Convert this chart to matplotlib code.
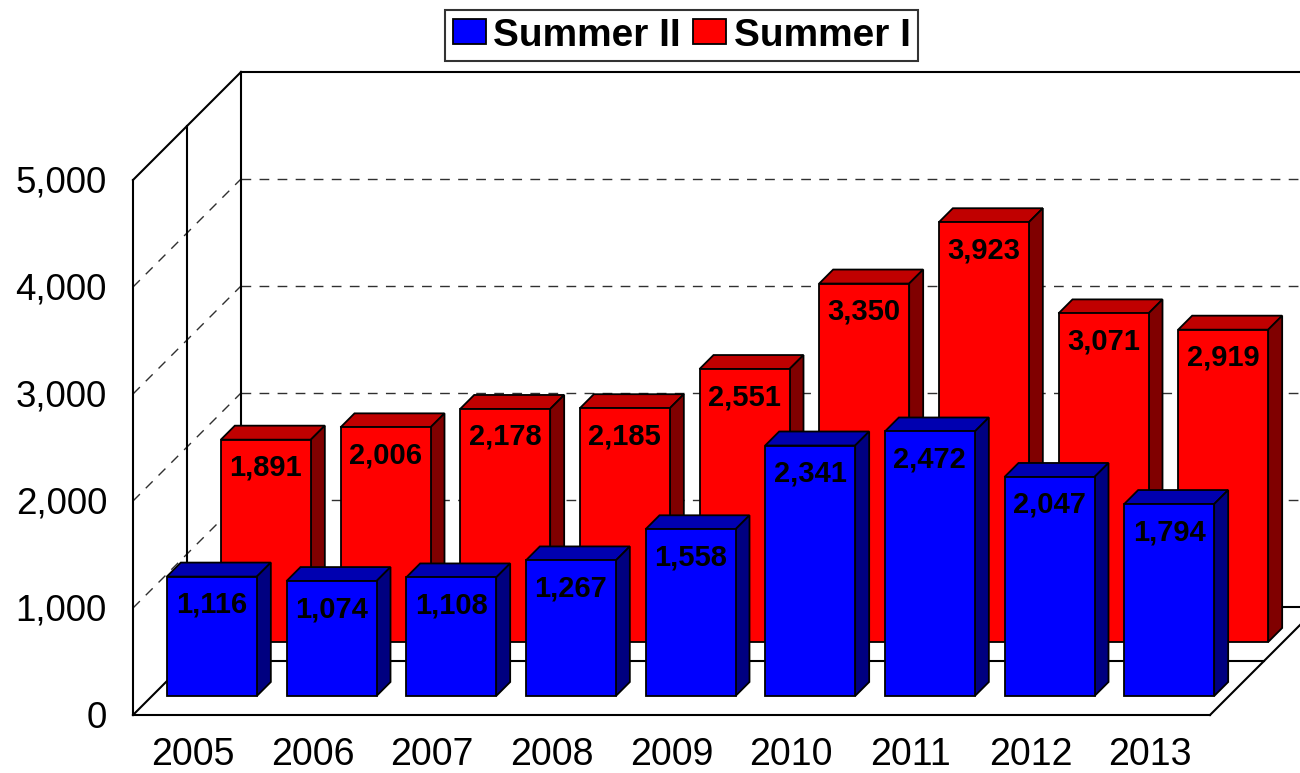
import matplotlib
matplotlib.use("Agg")
import matplotlib.pyplot as plt
from matplotlib.patches import Polygon

plt.rcParams['font.family'] = ['Liberation Sans', 'DejaVu Sans']

# данные
years = ['2005', '2006', '2007', '2008', '2009', '2010', '2011', '2012', '2013']
summer_ii = [1116, 1074, 1108, 1267, 1558, 2341, 2472, 2047, 1794]
summer_i = [1891, 2006, 2178, 2185, 2551, 3350, 3923, 3071, 2919]
y_ticks = [0, 1000, 2000, 3000, 4000, 5000]
y_tick_labels = ['0', '1,000', '2,000', '3,000', '4,000', '5,000']

# геометрия псевдо-3D (пиксели -> единицы данных)
W, H = 1300, 773
PX_X = (1210 - 133) / 9        # пикселей на одну категорию
PX_Y = 535 / 5000              # пикселей на единицу значения
DEPTH_X = 108 / PX_X           # полная глубина по x
DEPTH_Y = 108 / PX_Y           # полная глубина по y
BAR_W = 90 / PX_X
N = len(years)
LEFT, RIGHT = -0.5, N - 0.5
TOP = 5000


def proj(x, v, d):
    return x + d * DEPTH_X, v + d * DEPTH_Y


def draw_row(ax, values, d0, d1, front, top, side, label, z):
    xs = [i + d0 * DEPTH_X for i in range(N)]
    bars = ax.bar(xs, values, width=BAR_W, bottom=d0 * DEPTH_Y, color=front,
                  edgecolor='black', linewidth=1.3, zorder=z + 1, label=label)
    for i, v in enumerate(values):
        l, r = i - BAR_W / 2, i + BAR_W / 2
        top_face = [proj(l, v, d0), proj(r, v, d0), proj(r, v, d1), proj(l, v, d1)]
        side_face = [proj(r, 0, d0), proj(r, v, d0), proj(r, v, d1), proj(r, 0, d1)]
        ax.add_patch(Polygon(top_face, closed=True, facecolor=top, edgecolor='black',
                             linewidth=1.3, zorder=z))
        ax.add_patch(Polygon(side_face, closed=True, facecolor=side, edgecolor='black',
                             linewidth=1.3, zorder=z))
        tx, ty = proj(i, v - 28 / PX_Y, d0)
        ax.text(tx, ty, f'{v:,}', ha='center', va='center', fontsize=21,
                fontweight='bold', color='black', zorder=z + 2)
    return bars


def main():
    fig = plt.figure(figsize=(W / 100, H / 100), dpi=100)
    ax = fig.add_axes([0, 0, 1, 1])
    ax.set_xlim(LEFT - 133 / PX_X, LEFT + (W - 133) / PX_X)
    ax.set_ylim((715 - H) / PX_Y, 715 / PX_Y)
    ax.axis('off')

    lw = 1.5
    k = dict(color='black', linewidth=lw, zorder=2, solid_capstyle='projecting')

    # сетка: задняя стена и левая стена
    for v in y_ticks[1:-1]:
        x0, y0 = proj(LEFT, v, 1)
        x1, y1 = proj(RIGHT, v, 1)
        ax.plot([x0, x1], [y0, y1], color='#303030', linewidth=1, dashes=(7, 6), zorder=1)
        fx, fy = proj(LEFT, v, 0)
        ax.plot([fx, x0], [fy, y0], color='#303030', linewidth=1, dashes=(7, 6), zorder=1)

    # стены и пол
    def seg(a, b, **kw):
        ax.plot([a[0], b[0]], [a[1], b[1]], **kw)

    seg(proj(LEFT, 0, 0), proj(LEFT, TOP, 0), **k)
    seg(proj(LEFT, TOP, 0), proj(LEFT, TOP, 1), **k)
    seg(proj(LEFT, 0, 0), proj(LEFT, 0, 1), **k)
    seg(proj(LEFT, 0, 1), proj(LEFT, TOP, 1), **k)
    seg(proj(LEFT, TOP, 1), proj(RIGHT, TOP, 1), **k)
    seg(proj(LEFT, 0, 1), proj(RIGHT, 0, 1), **k)
    seg(proj(LEFT, 0, 0), proj(RIGHT, 0, 0), **k)
    seg(proj(RIGHT, 0, 0), proj(RIGHT, 0, 1), **k)
    # разделитель рядов посередине глубины
    seg(proj(LEFT, 0, 0.5), proj(LEFT, TOP, 0.5), **k)
    seg(proj(LEFT, 0, 0.5), proj(RIGHT, 0, 0.5), **k)

    red = draw_row(ax, summer_i, 73 / 108, 87 / 108, '#FF0000', '#C00000', '#800000',
                   'Summer I', 4)
    blue = draw_row(ax, summer_ii, 19 / 108, 33 / 108, '#0000FF', '#0000B0', '#000080',
                    'Summer II', 8)

    # подписи осей
    for v, lab in zip(y_ticks, y_tick_labels):
        ax.text(LEFT - 26 / PX_X, v - 3 / PX_Y, lab, ha='right', va='center', fontsize=26.5)
    for i, yr in enumerate(years):
        ax.text(i, -40 / PX_Y, yr, ha='center', va='center', fontsize=27)

    leg = fig.legend(handles=[blue, red], labels=['Summer II', 'Summer I'],
                     loc='center', bbox_to_anchor=(681.5 / W, 1 - 35.5 / H), ncol=2,
                     prop={'weight': 'bold', 'size': 28}, frameon=True, fancybox=False,
                     handlelength=0.85, handleheight=0.6, handletextpad=0.2,
                     columnspacing=0.3, borderpad=0.2, borderaxespad=0)
    leg.get_frame().set_edgecolor('black')
    leg.get_frame().set_linewidth(1.5)

    fig.savefig('out.png', dpi=100)


if __name__ == "__main__":
    main()
